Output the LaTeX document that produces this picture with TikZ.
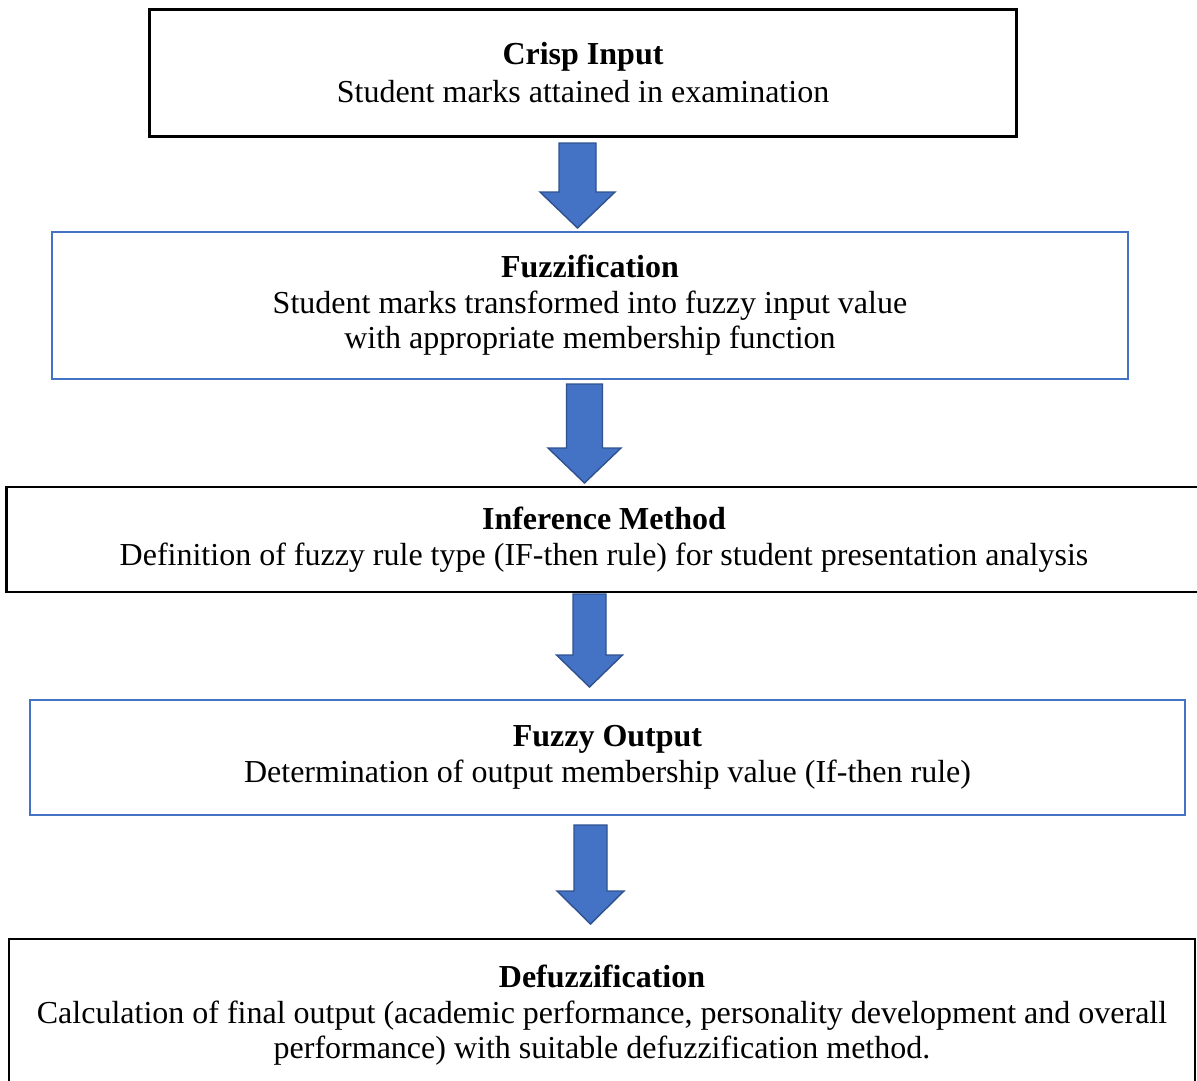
\documentclass[tikz,border=0pt]{standalone}
\usepackage{fontspec}
\setmainfont{Liberation Serif}
\definecolor{boxblue}{HTML}{4472C4}
\definecolor{arrowedge}{HTML}{2F528F}
\newcommand{\blockarrow}[6]{% cx, top, shoulder, tip, half shaft, half head
  \draw[blockarr] (#1-#5,#2) -- (#1+#5,#2) -- (#1+#5,#3) -- (#1+#6,#3) -- (#1,#4)
    -- (#1-#6,#3) -- (#1-#5,#3) -- cycle;}
\begin{document}
\begin{tikzpicture}[x=1pt,y=-1pt,
  stage/.style={rectangle, fill=white, align=center, inner sep=0pt,
    font=\fontsize{32}{35}\selectfont},
  blackbox/.style={stage, draw=black, line width=2.6pt},
  bluebox/.style={stage, draw=boxblue, line width=2.4pt},
  blockarr/.style={fill=boxblue, draw=arrowedge, line width=1.4pt, line join=miter}]
\useasboundingbox (0,0) rectangle (1197,1080);
\fill[white] (0,0) rectangle (1197,1080);

\node[blackbox, minimum width=867, minimum height=127] (b1) at (583,73)
  {\textbf{Crisp Input}\\[3pt]Student marks attained in examination};
\node[bluebox, minimum width=1076, minimum height=147] (b2) at (590,305.5)
  {\textbf{Fuzzification}\\[1pt]Student marks transformed into fuzzy input value\\with appropriate membership function};
\node[blackbox, minimum width=1195, minimum height=105] (b3) at (604,539.5)
  {\textbf{Inference Method}\\[1pt]Definition of fuzzy rule type (IF-then rule) for student presentation analysis};
\node[bluebox, line width=2pt, minimum width=1155, minimum height=115] (b4) at (607.5,757)
  {\textbf{Fuzzy Output}\\[1pt]Determination of output membership value (If-then rule)};
\node[blackbox, minimum width=1186, minimum height=152] (b5) at (602,1015)
  {\textbf{Defuzzification}\\[1pt]Calculation of final output (academic performance, personality development and overall\\performance) with suitable defuzzification method.};

\blockarrow{577.5}{143}{192}{228}{18.5}{37.5}
\blockarrow{584.5}{384}{448}{483}{18}{36.5}
\blockarrow{589.5}{594}{655}{687}{16.5}{33}
\blockarrow{590.5}{825}{891}{924}{16.5}{33.5}
\end{tikzpicture}
\end{document}
